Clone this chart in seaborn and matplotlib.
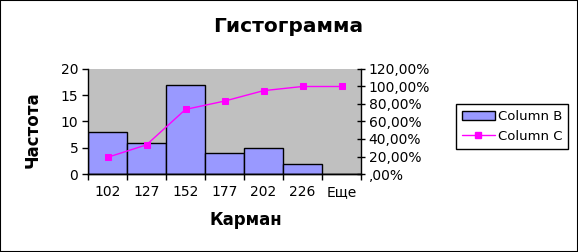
import matplotlib
matplotlib.use("Agg")
import matplotlib.pyplot as plt
import seaborn as sns
import pandas as pd
from matplotlib.patches import Rectangle, Patch
from matplotlib.lines import Line2D
from matplotlib.ticker import FuncFormatter, MultipleLocator, FixedLocator

sns.set_style("white")
plt.rcParams['font.family'] = ['DejaVu Sans']
plt.rcParams['text.color'] = 'black'
plt.rcParams['axes.labelcolor'] = 'black'
plt.rcParams['xtick.color'] = 'black'
plt.rcParams['ytick.color'] = 'black'

categories = ["102", "127", "152", "177", "202", "226", "Еще"]
freq = [8, 6, 17, 4, 5, 2, 0]
cum_pct = [0.1905, 0.3333, 0.7381, 0.8333, 0.9524, 1.0, 1.0]

df = pd.DataFrame({"bin": categories, "freq": freq, "cum": cum_pct})

fig = plt.figure(figsize=(5.78, 2.52), dpi=100)
ax = fig.add_axes([88/578, 1-174/252, (361-88)/578, (174-69)/252])
ax.set_facecolor("#C0C0C0")

sns.barplot(data=df, x="bin", y="freq", ax=ax, color="#9999FF", width=1.0,
            edgecolor="black", linewidth=1, saturation=1)
ax.set_xlim(-0.5, len(categories) - 0.5)
ax.set_ylim(0, 20)
ax.yaxis.set_major_locator(MultipleLocator(5))
ax.set_xlabel("")
ax.set_ylabel("")

ax2 = ax.twinx()
sns.pointplot(data=df, x="bin", y="cum", ax=ax2, color="#FF00FF", markers="s",
              markersize=5, linewidth=1)
ax2.set_xlim(-0.5, len(categories) - 0.5)
ax2.set_ylim(0, 1.2)
ax2.yaxis.set_major_locator(MultipleLocator(0.2))
ax2.set_ylabel("")
ax2.set_xlabel("")

def pct_fmt(v, pos):
    s = f"{v*100:.2f}".replace(".", ",")
    if s.startswith("0"):
        s = s[1:]
    return s + "%"
ax2.yaxis.set_major_formatter(FuncFormatter(pct_fmt))

for a in (ax, ax2):
    a.spines["top"].set_visible(False)
    for s in ("left", "right", "bottom"):
        a.spines[s].set_color("black")
        a.spines[s].set_linewidth(1)
ax.spines["right"].set_visible(False)
ax2.spines["left"].set_visible(False)

ax.tick_params(axis="y", direction="out", length=4.5, width=1, color="black",
               labelsize=10, pad=2.5, left=True)
ax2.tick_params(axis="y", direction="inout", length=6, width=1, color="black",
                labelsize=10, pad=2.5, right=True)
ax.set_xticks(range(len(categories)))
ax.set_xticklabels(categories)
ax.xaxis.set_minor_locator(FixedLocator([i - 0.5 for i in range(len(categories) + 1)]))
ax.tick_params(axis="x", which="major", length=0, labelsize=10, pad=16)
ax.tick_params(axis="x", which="minor", length=4, width=1, color="black", bottom=True)
for lab in ax.get_xticklabels():
    lab.set_verticalalignment("baseline")
ax2.tick_params(axis="x", which="both", length=0, labelbottom=False, labeltop=False)

fig.text(288/578, 1-27/252, "Гистограмма", ha="center", va="center",
         fontsize=14.5, fontweight="bold")
fig.text(33/578, 1-130/252, "Частота", ha="center", va="center",
         rotation=90, fontsize=12, fontweight="bold")
fig.text(246/578, 1-220/252, "Карман", ha="center", va="center",
         fontsize=12, fontweight="bold")

handles = [Patch(facecolor="#9999FF", edgecolor="black", linewidth=1),
           Line2D([0], [0], color="#FF00FF", marker="s", markersize=5, linewidth=1)]
leg = fig.legend(handles, ["Column B", "Column C"], loc="center",
                 bbox_to_anchor=(512/578, 1-126.5/252), fontsize=9.5,
                 frameon=True, fancybox=False, framealpha=1, edgecolor="black",
                 borderpad=0.45, handlelength=2.5, handletextpad=0.25,
                 labelspacing=0.5, borderaxespad=0)
leg.get_frame().set_linewidth(1)

fig.add_artist(Rectangle((0, 0), 1, 1, transform=fig.transFigure, fill=False,
                         edgecolor="black", linewidth=1.5))

fig.savefig("out.png", dpi=100)
